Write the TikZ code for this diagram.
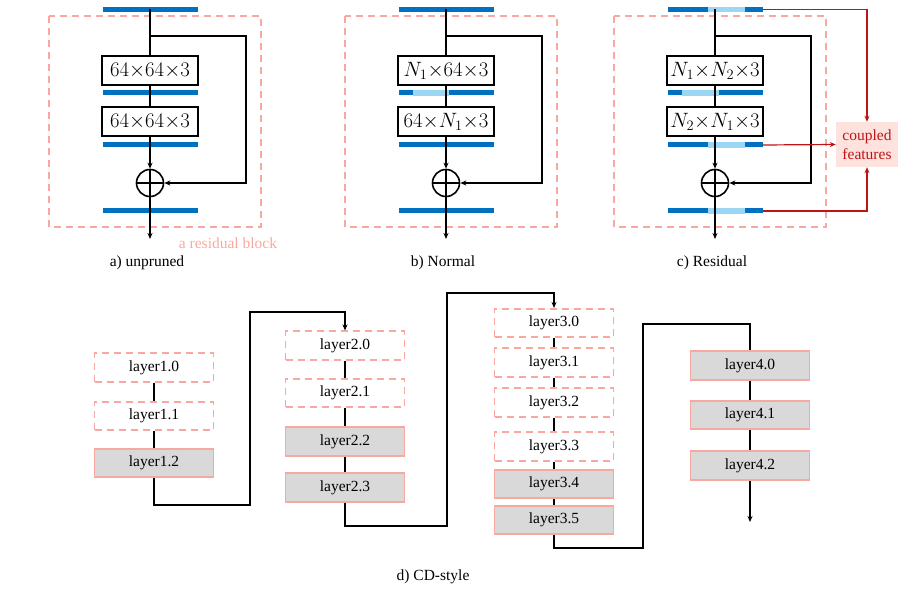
\documentclass[tikz,border=0pt]{standalone}
\usepackage{fontspec}
\setmainfont{Liberation Serif}
\usetikzlibrary{arrows.meta, positioning, calc}

\definecolor{bardark}{RGB}{0,112,192}
\definecolor{barlight}{RGB}{155,215,245}
\definecolor{salmon}{RGB}{248,168,158}
\definecolor{keepgray}{RGB}{217,217,217}
\definecolor{cfred}{RGB}{192,20,20}
\definecolor{cffill}{RGB}{253,226,222}

\newcommand{\by}{{\times}}

\begin{document}
\begin{tikzpicture}[x=1pt, y=-1pt,
  bar/.style={fill=bardark, minimum width=95pt, minimum height=5pt, inner sep=0pt},
  conv/.style={draw, fill=white, line width=2pt, minimum width=96pt, minimum height=29pt, inner sep=0pt, font=\fontsize{20}{22}\selectfont},
  sum/.style={draw, circle, line width=1.6pt, minimum size=27pt, inner sep=0pt},
  wire/.style={line width=1.6pt},
  arr/.style={wire, -{Stealth[length=6pt,width=5pt]}},
  block/.style={draw=salmon, line width=1.6pt, dash pattern=on 7pt off 5pt},
  redarr/.style={draw=cfred, line width=1.2pt, -{Stealth[length=6pt,width=5pt]}},
  cf/.style={fill=cffill, text=cfred, align=center, minimum width=62pt, minimum height=45pt, inner sep=0pt, font=\fontsize{15.5}{19}\selectfont},
  prune/.style={draw=salmon, line width=1.6pt, dash pattern=on 7pt off 5pt, minimum width=119pt, minimum height=28.5pt, inner sep=0pt, font=\fontsize{15.5}{18}\selectfont},
  keep/.style={prune, solid, fill=keepgray},
  every node/.style={font=\fontsize{15.5}{18}\selectfont}
]
  \useasboundingbox (0,0) rectangle (904,593);

  % residual blocks a), b), c)
  \foreach \p/\cx/\ka/\kb/\cap in {
      a/150/{64\by64\by3}/{64\by64\by3}/{a) unpruned},
      b/446/{N_1\by64\by3}/{64\by N_1\by3}/{b) Normal},
      c/715/{N_1\by N_2\by3}/{N_2\by N_1\by3}/{c) Residual}} {
    \draw[block] (\cx-101,16) rectangle (\cx+111,227);
    \node[bar] (t\p) at (\cx,9.5) {};
    \node[bar] (m\p) at (\cx,93) {};
    \node[bar] (l\p) at (\cx,145) {};
    \node[bar] (o\p) at (\cx,211) {};
    \coordinate (br\p) at (\cx,36);
    \coordinate (rt\p) at (\cx+96,36);
    \coordinate (e\p) at (\cx,239);
    \node[conv] (k1\p) at (\cx,70.5) {$\ka$};
    \node[conv] (k2\p) at (\cx,121.5) {$\kb$};
    \node[sum] (s\p) at (\cx,183) {};
    \node at (\cx-3,263) {\cap};
  }

  % pruned channels
  \fill[barlight] ([xshift=15pt]mb.south west) rectangle ([xshift=51pt]mb.north west);
  \fill[barlight] ([xshift=15pt]mc.south west) rectangle ([xshift=52pt]mc.north west);
  \foreach \b in {tc, lc, oc}
    \fill[barlight] ([xshift=41pt]\b.south west) rectangle ([xshift=78pt]\b.north west);

  \foreach \p in {a, b, c} {
    \draw[wire] (t\p.center) -- (k1\p);
    \draw[wire] (k1\p) -- (k2\p);
    \draw[arr] (k2\p) -- (s\p);
    \draw[arr] (s\p) -- (e\p);
    \draw[arr] (br\p) -- (rt\p) |- (s\p);
    \draw[wire] (s\p.north) -- (s\p.south) (s\p.west) -- (s\p.east);
  }

  \node[text=salmon] (rb) at (228,243) {a residual block};

  \node[cf] (cf) at (867,144.5) {coupled\\features};
  \draw[redarr] (tc.east) -| (cf.north);
  \draw[redarr] (lc.east) -- (cf.west);
  \draw[redarr] (oc.east) -| (cf.south);

  % d) CD-style
  \foreach \i/\y/\s in {0/367.5/prune, 1/416/prune, 2/463/keep}
    \node[\s] (l1\i) at (154,\y) {layer1.\i};
  \foreach \i/\y/\s in {0/345.5/prune, 1/393/prune, 2/441.5/keep, 3/487.5/keep}
    \node[\s] (l2\i) at (345,\y) {layer2.\i};
  \foreach \i/\y/\s in {0/323/prune, 1/362.5/prune, 2/402.5/prune, 3/446.5/prune, 4/484/keep, 5/520/keep}
    \node[\s] (l3\i) at (554,\y) {layer3.\i};
  \foreach \i/\y/\s in {0/365.5/keep, 1/415/keep, 2/465.5/keep}
    \node[\s] (l4\i) at (750,\y) {layer4.\i};

  \coordinate (j1) at (250,505);
  \coordinate (j2) at (345,312);
  \coordinate (j3) at (447,526);
  \coordinate (j4) at (554,293);
  \coordinate (j5) at (643,548);
  \coordinate (j6) at (750,324);
  \coordinate (end) at (750,522);

  \draw[wire] (l10) -- (l11) (l11) -- (l12);
  \draw[wire] (l20) -- (l21) (l21) -- (l22) (l22) -- (l23);
  \draw[wire] (l30) -- (l31) (l31) -- (l32) (l32) -- (l33) (l33) -- (l34) (l34) -- (l35);
  \draw[wire] (l40) -- (l41) (l41) -- (l42);
  \draw[arr] (l12.south) |- (j1) |- (j2) -- (l20.north);
  \draw[arr] (l23.south) |- (j3) |- (j4) -- (l30.north);
  \draw[wire] (l35.south) |- (j5) |- (j6) -- (l40.north);
  \draw[arr] (l42) -- (end);

  \node (cd) at (433,577) {d) CD-style};
\end{tikzpicture}
\end{document}
